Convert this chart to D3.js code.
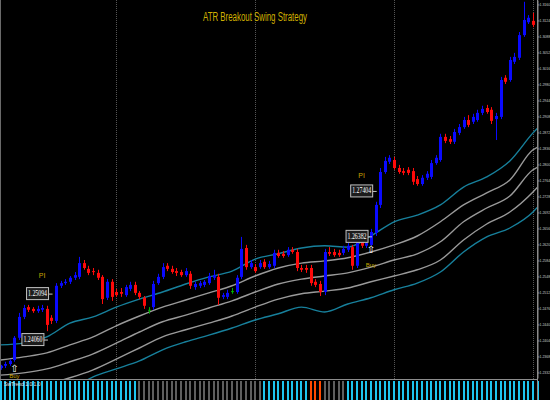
<!DOCTYPE html>
<html><head><meta charset="utf-8">
<script src="https://cdn.jsdelivr.net/npm/d3@7"></script>
<style>html,body{margin:0;padding:0;background:#000;overflow:hidden}</style>
</head><body><svg id="c" width="550" height="400"></svg>
<script>
const title = "ATR Breakout Swing Strategy";
const opens = [1.2342,1.2347,1.2351,1.2360,1.2410,1.2457,1.2479,1.2475,1.2470,1.2473,
1.2475,1.2455,1.2448,1.2527,1.2533,1.2536,1.2545,1.2547,1.2578,1.2565,
1.2560,1.2556,1.2547,1.2500,1.2536,1.2513,1.2513,1.2506,1.2520,1.2529,
1.2511,1.2500,1.2473,1.2479,1.2533,1.2547,1.2572,1.2565,1.2560,1.2558,
1.2551,1.2554,1.2524,1.2527,1.2529,1.2533,1.2545,1.2547,1.2502,1.2502,
1.2515,1.2513,1.2547,1.2612,1.2569,1.2569,1.2569,1.2581,1.2569,1.2572,
1.2601,1.2599,1.2596,1.2608,1.2603,1.2567,1.2567,1.2567,1.2536,1.2531,
1.2513,1.2603,1.2603,1.2601,1.2601,1.2608,1.2614,1.2572,1.2628,1.2617,
1.2619,1.2646,1.2709,1.2783,1.2806,1.2810,1.2792,1.2785,1.2788,1.2785,
1.2767,1.2756,1.2770,1.2772,1.2803,1.2810,1.2862,1.2857,1.2851,1.2871,
1.2884,1.2900,1.2896,1.2900,1.2916,1.2927,1.2923,1.2902,1.2907,1.2995,
1.2990,1.3031,1.3040,1.3091,1.3120,1.3123,1.3116];
const closes = [1.2347,1.2351,1.2358,1.2410,1.2457,1.2477,1.2473,1.2470,1.2475,1.2477,
1.2439,1.2448,1.2527,1.2533,1.2536,1.2545,1.2551,1.2578,1.2567,1.2556,
1.2558,1.2545,1.2497,1.2536,1.2502,1.2506,1.2509,1.2524,1.2529,1.2511,
1.2502,1.2482,1.2473,1.2531,1.2547,1.2569,1.2565,1.2558,1.2556,1.2551,
1.2560,1.2527,1.2531,1.2533,1.2536,1.2549,1.2551,1.2500,1.2506,1.2511,
1.2515,1.2545,1.2610,1.2569,1.2578,1.2560,1.2578,1.2569,1.2576,1.2601,
1.2594,1.2594,1.2608,1.2603,1.2567,1.2563,1.2563,1.2533,1.2529,1.2513,
1.2603,1.2599,1.2596,1.2596,1.2610,1.2617,1.2572,1.2628,1.2617,1.2623,
1.2648,1.2709,1.2783,1.2808,1.2815,1.2792,1.2783,1.2781,1.2781,1.2761,
1.2756,1.2770,1.2779,1.2803,1.2815,1.2862,1.2853,1.2851,1.2873,1.2884,
1.2900,1.2889,1.2907,1.2916,1.2925,1.2918,1.2898,1.2909,1.2990,1.2986,
1.3035,1.3042,1.3091,1.3125,1.3130,1.3114,1.3127];
const highs = [1.2349,1.2356,1.2362,1.2414,1.2466,1.2484,1.2484,1.2479,1.2482,1.2484,
1.2482,1.2461,1.2533,1.2538,1.2542,1.2549,1.2558,1.2592,1.2585,1.2572,
1.2567,1.2563,1.2551,1.2542,1.2542,1.2520,1.2522,1.2529,1.2536,1.2536,
1.2515,1.2504,1.2479,1.2538,1.2554,1.2578,1.2578,1.2572,1.2567,1.2563,
1.2567,1.2560,1.2536,1.2538,1.2540,1.2556,1.2563,1.2554,1.2511,1.2518,
1.2522,1.2551,1.2637,1.2619,1.2585,1.2576,1.2585,1.2587,1.2583,1.2608,
1.2608,1.2605,1.2614,1.2614,1.2610,1.2574,1.2574,1.2574,1.2542,1.2538,
1.2610,1.2614,1.2610,1.2608,1.2617,1.2623,1.2619,1.2635,1.2632,1.2630,
1.2655,1.2716,1.2792,1.2817,1.2821,1.2817,1.2799,1.2792,1.2794,1.2792,
1.2774,1.2776,1.2785,1.2810,1.2821,1.2869,1.2869,1.2864,1.2880,1.2891,
1.2907,1.2911,1.2914,1.2923,1.2932,1.2934,1.2929,1.2916,1.2997,1.3001,
1.3042,1.3051,1.3098,1.3166,1.3136,1.3141,1.3134];
const lows = [1.2338,1.2342,1.2347,1.2356,1.2405,1.2452,1.2468,1.2466,1.2466,1.2468,
1.2425,1.2441,1.2443,1.2522,1.2529,1.2531,1.2540,1.2542,1.2563,1.2551,
1.2551,1.2540,1.2486,1.2495,1.2493,1.2502,1.2502,1.2502,1.2515,1.2506,
1.2497,1.2475,1.2464,1.2473,1.2529,1.2542,1.2560,1.2554,1.2549,1.2547,
1.2547,1.2520,1.2518,1.2522,1.2524,1.2529,1.2540,1.2484,1.2497,1.2497,
1.2509,1.2509,1.2542,1.2563,1.2565,1.2556,1.2565,1.2565,1.2565,1.2567,
1.2590,1.2590,1.2592,1.2599,1.2560,1.2558,1.2556,1.2527,1.2524,1.2504,
1.2506,1.2594,1.2592,1.2592,1.2596,1.2603,1.2563,1.2567,1.2612,1.2612,
1.2617,1.2639,1.2702,1.2779,1.2801,1.2788,1.2779,1.2776,1.2776,1.2754,
1.2752,1.2752,1.2765,1.2767,1.2799,1.2806,1.2848,1.2846,1.2846,1.2866,
1.2880,1.2884,1.2891,1.2896,1.2911,1.2914,1.2891,1.2855,1.2902,1.2981,
1.2986,1.3026,1.3035,1.3087,1.3116,1.3109,1.3112];

const bandIndex = [0,5,10,15,20,25,30,35,40,45,50,55,60,65,70,75,80,85,90,95,100,105,110,115,116];
const upperOuter = [1.2394,1.2398,1.2412,1.2443,1.2457,1.2479,1.2497,1.2513,1.2531,1.2547,1.2560,1.2587,1.2599,1.2612,1.2617,1.2614,1.2639,1.2671,1.2686,1.2709,1.2749,1.2772,1.2808,1.2871,1.2882];
const upperInner = [1.2360,1.2367,1.2376,1.2394,1.2412,1.2437,1.2459,1.2479,1.2495,1.2511,1.2527,1.2549,1.2567,1.2578,1.2583,1.2590,1.2603,1.2619,1.2639,1.2671,1.2709,1.2736,1.2765,1.2833,1.2839];
const middle     = [1.2326,1.2331,1.2340,1.2356,1.2374,1.2398,1.2423,1.2446,1.2461,1.2477,1.2493,1.2513,1.2531,1.2542,1.2549,1.2556,1.2569,1.2585,1.2599,1.2626,1.2671,1.2702,1.2729,1.2788,1.2794];
const lowerInner = [1.2293,1.2297,1.2306,1.2320,1.2338,1.2362,1.2387,1.2412,1.2428,1.2443,1.2459,1.2479,1.2497,1.2509,1.2515,1.2522,1.2536,1.2549,1.2563,1.2585,1.2630,1.2666,1.2693,1.2738,1.2749];
const lowerOuter = [1.2248,1.2259,1.2275,1.2293,1.2322,1.2340,1.2358,1.2383,1.2401,1.2416,1.2432,1.2450,1.2464,1.2479,1.2468,1.2486,1.2500,1.2518,1.2533,1.2558,1.2603,1.2637,1.2657,1.2693,1.2704];

const separators = [25,55,85,115];
const priceTicks = [1.3160,1.3124,1.3088,1.3052,1.3016,1.2980,1.2944,1.2908,1.2872,1.2836,1.2800,1.2764,1.2728,1.2692,1.2656,1.2620,1.2584,1.2548,1.2512,1.2476,1.2440,1.2404,1.2368,1.2332];

const levelIndex = [8,7,78,77];
const levelPrice = [1.25094,1.24060,1.27404,1.26382];
const piIndex = [9,78];
const piPrice = [1.2551,1.2776];
const buyIndex = [3,80];
const buyArrowPrice = [1.2342,1.2610];
const buyTextPrice  = [1.2324,1.2574];

const trendFrom  = [0,30,57,67,70,75];
const trendTo    = [29,56,66,69,74,116];
const trendState = ["up","flat","up","down","flat","up"];
const panelLabel = "SwTrend 1.0 1.0";

// ---------------- drawing ----------------
const svg = d3.select("#c");
svg.append("rect").attr("width",550).attr("height",400).attr("fill","#000");

const x = d3.scaleLinear().domain([0,115]).range([0.5,533]);
const y = d3.scaleLinear().domain([1.23195,1.3170]).range([378,0]);
const py = d3.scaleLinear().domain([0,1]).range([400,381]);

svg.append("defs").append("clipPath").attr("id","main")
  .append("rect").attr("x",0).attr("y",0).attr("width",537).attr("height",379);

const main = svg.append("g").attr("clip-path","url(#main)");

// separators
main.selectAll("line.sep").data(separators).enter().append("line")
  .attr("x1",d=>Math.round(x(d))+0.5).attr("x2",d=>Math.round(x(d))+0.5)
  .attr("y1",0).attr("y2",379)
  .attr("stroke","#555").attr("stroke-width",1).attr("stroke-dasharray","1,1");

// bands
const bands = [
  {v:upperOuter, c:"#17809c"},
  {v:upperInner, c:"#9a9a9a"},
  {v:middle,     c:"#9a9a9a"},
  {v:lowerInner, c:"#9a9a9a"},
  {v:lowerOuter, c:"#17809c"}
];
const line = d3.line().x((d,k)=>x(bandIndex[k])).y(d=>y(d)).curve(d3.curveMonotoneX);
main.selectAll("path.band").data(bands).enter().append("path")
  .attr("d",d=>line(d.v)).attr("fill","none").attr("stroke",d=>d.c).attr("stroke-width",1.4);

// candles
const idx = d3.range(opens.length);
const col = i => closes[i]>opens[i] ? "#0a0aff" : (closes[i]<opens[i] ? "#ff0a0a" : "#00b000");
const cg = main.selectAll("g.cd").data(idx).enter().append("g");
cg.append("line")
  .attr("x1",i=>Math.round(x(i))+0.5).attr("x2",i=>Math.round(x(i))+0.5)
  .attr("y1",i=>y(highs[i])).attr("y2",i=>y(lows[i]))
  .attr("stroke",col).attr("stroke-width",1);
cg.append("rect")
  .attr("x",i=>Math.round(x(i))-1).attr("width",3)
  .attr("y",i=>y(Math.max(opens[i],closes[i])))
  .attr("height",i=>Math.max(1,Math.abs(y(opens[i])-y(closes[i]))))
  .attr("fill",col);

// level boxes
const lv = main.selectAll("g.lv").data(levelIndex.map((d,k)=>({i:d,p:levelPrice[k]}))).enter().append("g")
  .attr("transform",d=>`translate(${x(d.i)},${y(d.p)})`);
lv.append("line").attr("x1",11).attr("x2",15).attr("y1",0.5).attr("y2",0.5).attr("stroke","#c8c8c8");
lv.append("rect").attr("x",-11).attr("y",-6).attr("width",22).attr("height",12)
  .attr("fill","#1c1c1c").attr("stroke","#c0c0c0").attr("stroke-width",1);
lv.append("text").attr("text-anchor","middle").attr("y",2.5)
  .attr("font-family","Liberation Serif, serif").attr("font-size",7.5)
  .attr("textLength",19).attr("lengthAdjust","spacingAndGlyphs")
  .attr("fill","#ffffff").text(d=>d.p.toFixed(5));

// PI markers
main.selectAll("text.pi").data(piIndex.map((d,k)=>({i:d,p:piPrice[k]}))).enter().append("text")
  .attr("x",d=>x(d.i)).attr("y",d=>y(d.p)+2.5).attr("text-anchor","middle")
  .attr("font-family","Liberation Sans, sans-serif").attr("font-size",7)
  .attr("fill","#c8a400").text("PI");

// buy arrows + labels
main.selectAll("text.arr").data(buyIndex.map((d,k)=>({i:d,p:buyArrowPrice[k]}))).enter().append("text")
  .attr("x",d=>x(d.i)).attr("y",d=>y(d.p)+4).attr("text-anchor","middle")
  .attr("font-family","DejaVu Sans, sans-serif").attr("font-size",10)
  .attr("fill","#ffffff").text("\u21E7");
main.selectAll("text.buy").data(buyIndex.map((d,k)=>({i:d,p:buyTextPrice[k]}))).enter().append("text")
  .attr("x",d=>x(d.i)).attr("y",d=>y(d.p)+2).attr("text-anchor","middle")
  .attr("font-family","Liberation Sans, sans-serif").attr("font-size",6)
  .attr("fill","#c8a400").text("Buy");

// title
svg.append("text").attr("x",255).attr("y",21).attr("text-anchor","middle")
  .attr("font-family","Liberation Sans Narrow, Liberation Sans, sans-serif").attr("font-size",12)
  .attr("textLength",104).attr("lengthAdjust","spacingAndGlyphs")
  .attr("fill","#d0b000").text(title);

// left border
svg.append("line").attr("x1",0.5).attr("x2",0.5).attr("y1",0).attr("y2",400).attr("stroke","#6a6a6a");

// bottom panel
const stateColor = {up:"#1ec4ee", flat:"#5e5e5e", down:"#ff4a00"};
const stateOf = i => { for (let k=0;k<trendFrom.length;k++) if (i>=trendFrom[k] && i<=trendTo[k]) return trendState[k]; return "flat"; };
svg.append("line").attr("x1",0).attr("x2",538).attr("y1",379.5).attr("y2",379.5).attr("stroke","#8c8c8c");
svg.selectAll("rect.hb").data(idx).enter().append("rect")
  .attr("x",i=>Math.round(x(i))-1).attr("width",2)
  .attr("y",py(1)).attr("height",py(0)-py(1))
  .attr("fill",i=>stateColor[stateOf(i)]);
svg.append("text").attr("x",4).attr("y",386).attr("font-family","Liberation Sans, sans-serif")
  .attr("font-size",5).attr("fill","#e0e0e0").text(panelLabel);

// right axis
const ax = svg.append("g").attr("transform","translate(537.5,0)")
  .call(d3.axisRight(y).tickValues(priceTicks).tickSize(2).tickSizeOuter(0).tickFormat(d3.format(".4f")));
ax.select(".domain").attr("stroke","#8c8c8c");
ax.selectAll(".tick line").attr("stroke","#8c8c8c");
ax.selectAll(".tick text").attr("fill","#c8c8c8").attr("font-size",3.5)
  .attr("font-family","Liberation Sans Narrow, Liberation Sans, sans-serif").attr("x",2);
svg.append("line").attr("x1",537.5).attr("x2",537.5).attr("y1",0).attr("y2",400).attr("stroke","#8c8c8c");
</script>
</body></html>
